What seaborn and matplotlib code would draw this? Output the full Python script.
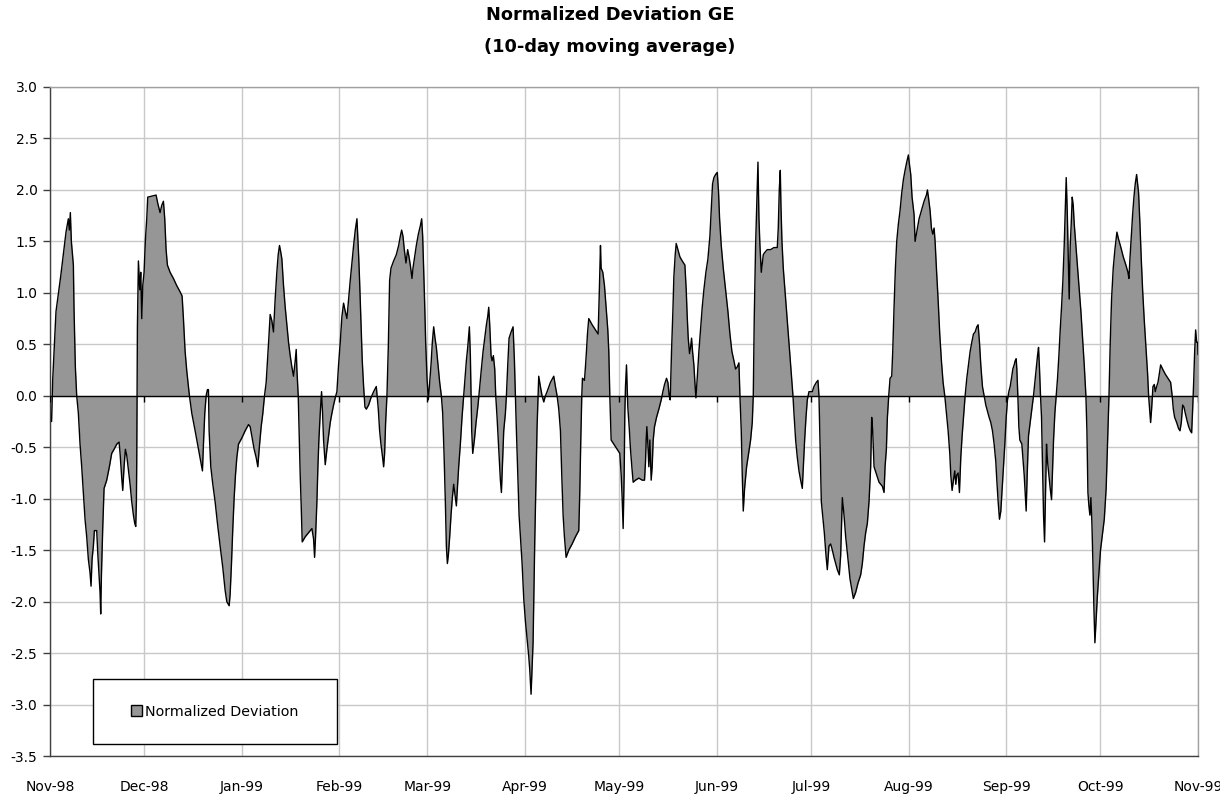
import numpy as np
import pandas as pd
import matplotlib
matplotlib.use("Agg")
import matplotlib.pyplot as plt
from matplotlib.patches import Patch, Rectangle
from matplotlib.ticker import FormatStrFormatter
import seaborn as sns

sns.set_theme(style="white")
plt.rcParams["font.family"] = ["DejaVu Sans"]
plt.rcParams["text.color"] = "black"

start = "1998-11-01"

# days after 1 Nov 1998
day = [
    0.5, 0.85, 1.27, 1.59, 1.91, 2.65, 3.4, 4.24, 5.09, 5.84,
    6.15, 6.47, 6.79, 7.43, 7.64, 8.06, 8.49, 9.02, 9.55, 10.08,
    10.61, 11.14, 11.67, 12.2, 12.73, 13.05, 13.37, 13.79, 14.11, 14.85,
    15.17, 15.7, 15.91, 16.12, 16.34, 16.76, 17.19, 18.03, 18.88, 19.62,
    20.37, 21.22, 21.96, 22.28, 22.81, 23.12, 23.55, 23.97, 24.4, 24.82,
    25.46, 25.99, 26.52, 26.94, 27.26, 27.47, 27.58, 27.69, 27.79, 28.11,
    28.32, 28.53, 28.85, 29.17, 29.49, 29.91, 30.34, 30.76, 31.08, 32.35,
    33.73, 34.26, 35.0, 35.53, 36.06, 36.48, 36.91, 37.33, 38.18, 39.24,
    40.3, 41.36, 42.0, 42.42, 42.96, 43.49, 44.33, 45.08, 46.14, 47.2,
    47.94, 48.47, 48.79, 49.21, 49.64, 50.06, 50.38, 50.59, 51.12, 51.76,
    52.5, 53.24, 54.09, 54.94, 55.68, 56.21, 56.96, 57.27, 57.7, 58.12,
    58.55, 58.97, 59.4, 59.93, 60.99, 62.05, 63.11, 63.64, 64.17, 64.91,
    65.55, 66.08, 66.5, 67.14, 67.67, 68.2, 68.73, 69.15, 69.58, 70.0,
    70.53, 71.06, 71.59, 72.12, 72.55, 72.97, 73.4, 73.72, 74.25, 74.78,
    75.31, 75.84, 76.37, 76.9, 77.43, 77.96, 78.28, 78.49, 78.92, 79.24,
    79.55, 79.87, 80.19, 81.15, 82.21, 83.27, 83.8, 84.12, 84.43, 84.86,
    85.18, 85.49, 85.92, 86.34, 86.66, 86.98, 87.51, 88.04, 88.57, 89.1,
    89.63, 90.16, 90.69, 91.22, 91.75, 92.28, 92.81, 93.34, 93.87, 94.4,
    94.93, 95.46, 95.99, 96.53, 97.06, 97.59, 98.12, 98.43, 98.86, 99.28,
    99.71, 100.13, 100.56, 101.3, 102.04, 102.89, 103.74, 104.38, 104.8, 105.22,
    105.75, 106.07, 106.39, 106.71, 107.13, 107.56, 107.98, 108.41, 109.25, 110.1,
    110.85, 111.38, 111.8, 112.23, 112.65, 113.18, 113.71, 114.14, 114.56, 115.09,
    115.41, 115.84, 116.47, 117.11, 117.74, 118.17, 118.49, 118.8, 119.12, 119.44,
    119.87, 120.29, 120.71, 121.14, 121.56, 121.99, 122.41, 122.84, 123.37, 123.9,
    124.43, 124.85, 125.28, 125.7, 126.02, 126.34, 126.65, 127.08, 127.5, 127.93,
    128.35, 128.78, 129.2, 129.52, 129.94, 130.47, 131.0, 131.53, 131.96, 132.38,
    132.81, 133.34, 133.65, 133.87, 134.08, 134.4, 134.93, 135.46, 136.09, 136.62,
    137.15, 137.69, 138.22, 138.75, 139.17, 139.49, 139.81, 140.23, 140.55, 140.97,
    141.4, 141.72, 142.14, 142.67, 143.2, 143.52, 143.84, 144.26, 144.79, 145.11,
    145.54, 145.96, 146.6, 147.23, 147.66, 147.97, 148.29, 148.72, 149.14, 149.56,
    150.1, 150.62, 151.15, 151.68, 152.21, 152.53, 152.95, 153.27, 153.59, 153.8,
    154.12, 154.55, 154.86, 155.18, 155.39, 155.92, 156.45, 156.99, 157.52, 158.05,
    159.11, 160.17, 160.7, 161.23, 161.76, 162.29, 162.71, 163.14, 163.56, 164.09,
    164.94, 166.0, 167.06, 168.12, 168.44, 168.76, 169.08, 169.29, 169.93, 170.24,
    170.56, 170.88, 171.3, 172.37, 173.43, 174.27, 174.59, 175.02, 175.23, 175.76,
    176.29, 176.82, 177.35, 177.67, 177.99, 178.41, 179.26, 180.32, 181.17, 181.6,
    181.91, 182.23, 182.55, 182.76, 182.97, 183.29, 183.5, 183.71, 184.14, 184.56,
    184.99, 185.41, 186.15, 187.21, 188.28, 189.02, 189.34, 189.55, 189.77, 190.08,
    190.4, 190.72, 190.93, 191.14, 191.46, 191.78, 192.2, 192.84, 193.58, 194.33,
    194.86, 195.39, 196.02, 196.45, 196.87, 197.19, 197.3, 197.61, 198.04, 198.36,
    198.78, 199.1, 199.63, 200.27, 201.01, 201.86, 202.28, 202.6, 202.92, 203.34,
    203.66, 203.98, 204.3, 204.72, 205.04, 205.36, 205.78, 206.31, 206.84, 207.37,
    207.9, 208.54, 209.18, 209.81, 210.24, 210.66, 211.09, 211.62, 212.15, 212.57,
    212.89, 213.42, 214.06, 214.8, 215.54, 216.18, 216.81, 217.45, 217.98, 218.51,
    219.04, 219.36, 219.78, 220.1, 220.42, 220.84, 221.48, 222.12, 222.75, 223.28,
    223.6, 223.92, 224.34, 224.66, 225.09, 225.41, 225.72, 226.15, 226.78, 227.2,
    228.05, 229.11, 230.17, 231.23, 231.55, 231.87, 232.19, 232.4, 232.72, 233.14,
    233.67, 234.2, 234.73, 235.26, 235.79, 236.22, 236.54, 237.07, 237.6, 238.13,
    238.66, 239.19, 239.51, 239.93, 240.36, 240.78, 241.31, 242.37, 242.9, 243.64,
    244.17, 244.49, 244.81, 245.24, 245.66, 246.19, 246.72, 247.14, 247.67, 248.2,
    248.74, 249.27, 249.8, 250.33, 250.96, 251.39, 251.92, 252.45, 252.98, 253.72,
    254.36, 254.99, 255.42, 256.16, 256.9, 257.75, 258.28, 258.81, 259.34, 259.87,
    260.4, 260.93, 261.25, 261.57, 262.0, 262.84, 263.59, 264.65, 265.18, 265.5,
    265.92, 266.24, 266.67, 267.09, 267.62, 267.94, 268.36, 268.79, 269.21, 269.74,
    270.27, 270.8, 271.33, 271.86, 272.39, 272.92, 273.24, 273.67, 274.09, 274.73,
    275.05, 275.58, 276.32, 277.06, 277.91, 278.65, 278.97, 279.29, 279.82, 280.24,
    280.67, 281.09, 281.41, 281.83, 282.36, 282.89, 283.42, 283.95, 284.49, 285.02,
    285.55, 286.08, 286.4, 286.82, 287.24, 287.67, 287.99, 288.3, 288.73, 289.15,
    289.58, 290.0, 290.43, 290.96, 291.49, 292.02, 292.55, 293.08, 293.61, 294.14,
    294.67, 295.09, 295.52, 295.94, 296.47, 297.0, 297.53, 298.06, 298.59, 299.12,
    299.65, 300.18, 300.71, 301.03, 301.46, 301.88, 302.31, 302.73, 303.16, 303.58,
    304.01, 304.43, 304.86, 305.28, 305.7, 306.13, 306.55, 306.87, 307.19, 307.4,
    307.72, 308.04, 308.36, 308.67, 308.99, 309.31, 309.74, 310.05, 310.37, 310.69,
    311.11, 311.64, 312.17, 312.7, 313.13, 313.55, 313.98, 314.3, 314.61, 314.93,
    315.25, 315.57, 315.89, 316.21, 316.52, 316.84, 317.16, 317.58, 318.01, 318.43,
    318.75, 319.07, 319.49, 319.92, 320.34, 320.77, 321.19, 321.61, 322.04, 322.46,
    322.78, 323.1, 323.42, 323.74, 324.05, 324.37, 324.69, 325.01, 325.33, 325.65,
    326.18, 326.71, 327.24, 327.77, 328.3, 328.83, 329.36, 329.68, 330.0, 330.31,
    330.63, 330.95, 331.27, 331.59, 331.9, 332.22, 332.6, 333.0, 333.5, 334.0,
    334.6, 335.2, 335.8, 336.3, 336.7, 337.1, 337.52, 338.05, 338.58, 339.22,
    339.75, 340.49, 341.24, 342.08, 342.72, 343.04, 343.36, 343.78, 344.21, 344.63,
    345.05, 345.48, 345.8, 346.11, 346.54, 346.96, 347.39, 347.92, 348.45, 348.98,
    349.3, 349.62, 349.93, 350.25, 350.68, 351.1, 351.42, 351.84, 352.27, 352.69,
    353.12, 353.75, 354.6, 355.45, 356.3, 356.72, 357.15, 357.57, 358.21, 358.84,
    359.27, 359.69, 360.12, 360.54, 360.96, 361.5, 362.03, 362.56, 362.98, 363.3,
    363.62, 363.94, 364.25, 364.57, 364.89, 365.0,
]

deviation = [
    -0.25, 0.15, 0.43, 0.62, 0.82, 0.99, 1.16, 1.37, 1.59, 1.72,
    1.61, 1.78, 1.50, 1.27, 0.84, 0.28, 0, -0.17, -0.47, -0.69,
    -0.94, -1.2, -1.37, -1.59, -1.72, -1.85, -1.59, -1.46, -1.31, -1.31,
    -1.52, -1.80, -1.91, -2.12, -1.76, -1.29, -0.90, -0.82, -0.69, -0.56,
    -0.52, -0.47, -0.45, -0.56, -0.80, -0.92, -0.69, -0.52, -0.58, -0.69,
    -0.86, -1.03, -1.16, -1.24, -1.27, -1.03, -0.64, 0, 0.67, 1.31,
    1.18, 1.03, 1.20, 0.75, 1.07, 1.20, 1.52, 1.72, 1.93, 1.94,
    1.95, 1.87, 1.78, 1.85, 1.89, 1.72, 1.42, 1.27, 1.20, 1.14,
    1.07, 1.01, 0.97, 0.75, 0.43, 0.24, 0, -0.17, -0.34, -0.52,
    -0.64, -0.73, -0.47, -0.17, 0, 0.06, 0.06, -0.34, -0.69, -0.86,
    -1.03, -1.24, -1.46, -1.67, -1.89, -2.0, -2.04, -1.93, -1.63, -1.29,
    -0.99, -0.77, -0.60, -0.47, -0.41, -0.34, -0.28, -0.30, -0.39, -0.52,
    -0.60, -0.69, -0.52, -0.30, -0.17, 0, 0.13, 0.34, 0.56, 0.79,
    0.73, 0.62, 0.94, 1.20, 1.37, 1.46, 1.39, 1.33, 1.07, 0.86,
    0.69, 0.52, 0.39, 0.28, 0.19, 0.34, 0.45, 0.26, 0, -0.39,
    -0.77, -1.07, -1.42, -1.37, -1.33, -1.29, -1.39, -1.57, -1.37, -1.03,
    -0.69, -0.43, -0.17, 0.04, -0.17, -0.43, -0.67, -0.52, -0.39, -0.26,
    -0.17, -0.09, -0.02, 0.04, 0.30, 0.52, 0.77, 0.90, 0.82, 0.75,
    0.94, 1.12, 1.29, 1.46, 1.61, 1.72, 1.37, 1.12, 0.73, 0.34,
    0.09, -0.11, -0.13, -0.09, -0.02, 0.04, 0.09, -0.13, -0.34, -0.47,
    -0.60, -0.69, -0.56, -0.26, 0, 0.47, 1.12, 1.24, 1.31, 1.37,
    1.46, 1.55, 1.61, 1.55, 1.42, 1.29, 1.42, 1.35, 1.27, 1.14,
    1.24, 1.33, 1.46, 1.57, 1.65, 1.72, 1.55, 1.24, 0.90, 0.52,
    0.17, -0.04, 0.13, 0.30, 0.52, 0.67, 0.56, 0.47, 0.30, 0.13,
    0, -0.17, -0.56, -1.03, -1.46, -1.63, -1.55, -1.37, -1.16, -0.99,
    -0.86, -0.97, -1.07, -0.90, -0.69, -0.47, -0.21, 0, 0.17, 0.34,
    0.47, 0.67, 0.39, 0, -0.34, -0.56, -0.43, -0.26, -0.09, 0.09,
    0.26, 0.43, 0.56, 0.69, 0.77, 0.86, 0.69, 0.39, 0.34, 0.39,
    0.26, 0, -0.21, -0.52, -0.82, -0.94, -0.69, -0.34, -0.17, 0,
    0.30, 0.56, 0.62, 0.67, 0.34, 0, -0.34, -0.77, -1.16, -1.37,
    -1.63, -1.97, -2.19, -2.36, -2.53, -2.66, -2.90, -2.66, -2.40, -2.02,
    -1.42, -0.77, -0.30, 0, 0.19, 0.09, 0, -0.06, 0, 0.04,
    0.13, 0.19, 0.09, 0, -0.13, -0.34, -0.77, -1.16, -1.37, -1.57,
    -1.50, -1.44, -1.37, -1.31, -0.94, -0.43, 0, 0.17, 0.15, 0.28,
    0.43, 0.60, 0.75, 0.69, 0.64, 0.60, 0.94, 1.46, 1.24, 1.20,
    1.07, 0.86, 0.64, 0.43, 0, -0.43, -0.47, -0.52, -0.56, -0.77,
    -0.99, -1.29, -0.77, -0.17, 0.09, 0.30, 0.09, -0.11, -0.30, -0.52,
    -0.69, -0.84, -0.82, -0.80, -0.82, -0.82, -0.64, -0.43, -0.30, -0.47,
    -0.69, -0.43, -0.64, -0.82, -0.69, -0.43, -0.30, -0.21, -0.13, -0.04,
    0.04, 0.11, 0.17, 0.13, 0, -0.04, 0.09, 0.43, 0.82, 1.16,
    1.37, 1.48, 1.42, 1.35, 1.31, 1.27, 1.03, 0.77, 0.56, 0.41,
    0.47, 0.56, 0.43, 0.30, 0.13, -0.02, 0.17, 0.43, 0.64, 0.86,
    1.03, 1.20, 1.33, 1.55, 1.80, 2.06, 2.12, 2.15, 2.17, 1.97,
    1.72, 1.46, 1.24, 1.03, 0.82, 0.60, 0.43, 0.34, 0.26, 0.28,
    0.32, 0, -0.34, -0.77, -1.12, -0.90, -0.69, -0.56, -0.43, -0.26,
    0, 0.77, 1.46, 1.80, 2.27, 1.72, 1.46, 1.20, 1.37, 1.39,
    1.42, 1.42, 1.44, 1.44, 1.63, 2.0, 2.19, 1.85, 1.50, 1.24,
    1.03, 0.82, 0.60, 0.39, 0.17, 0, -0.17, -0.43, -0.60, -0.73,
    -0.82, -0.90, -0.69, -0.43, -0.21, -0.04, 0.04, 0.04, 0.09, 0.13,
    0.15, 0, -0.43, -1.03, -1.16, -1.33, -1.55, -1.69, -1.46, -1.44,
    -1.50, -1.57, -1.63, -1.69, -1.74, -1.55, -0.99, -1.16, -1.37, -1.59,
    -1.78, -1.89, -1.97, -1.91, -1.82, -1.74, -1.63, -1.46, -1.33, -1.24,
    -1.03, -0.69, -0.21, -0.34, -0.69, -0.77, -0.84, -0.88, -0.94, -0.69,
    -0.52, -0.21, 0, 0.17, 0.19, 0.43, 0.86, 1.24, 1.50, 1.67,
    1.80, 1.97, 2.10, 2.19, 2.27, 2.34, 2.25, 2.15, 1.93, 1.76,
    1.50, 1.59, 1.72, 1.80, 1.89, 1.95, 2.0, 1.93, 1.80, 1.63,
    1.57, 1.63, 1.50, 1.24, 0.94, 0.60, 0.34, 0.13, 0, -0.17,
    -0.34, -0.56, -0.77, -0.92, -0.82, -0.73, -0.86, -0.77, -0.75, -0.94,
    -0.60, -0.39, -0.21, 0, 0.17, 0.30, 0.43, 0.52, 0.60, 0.62,
    0.67, 0.69, 0.52, 0.30, 0.09, 0, -0.09, -0.15, -0.21, -0.26,
    -0.34, -0.47, -0.64, -0.82, -1.03, -1.20, -1.12, -0.90, -0.69, -0.47,
    -0.21, -0.04, 0.04, 0.09, 0.17, 0.26, 0.30, 0.34, 0.36, 0.26,
    0, -0.30, -0.43, -0.45, -0.47, -0.60, -0.77, -0.94, -1.12, -0.77,
    -0.39, -0.26, -0.13, 0, 0.13, 0.26, 0.39, 0.47, 0.26, 0,
    -0.21, -0.69, -1.16, -1.42, -0.94, -0.47, -0.64, -0.77, -0.90, -1.01,
    -0.73, -0.43, -0.17, 0, 0.17, 0.39, 0.64, 0.86, 1.12, 1.46,
    1.80, 2.12, 1.80, 1.37, 0.94, 1.46, 1.67, 1.93, 1.85, 1.67,
    1.46, 1.24, 1.03, 0.82, 0.56, 0.30, 0, -0.34, -0.94, -1.07,
    -1.16, -0.99, -1.24, -1.63, -2.06, -2.40, -2.19, -1.95, -1.72, -1.50,
    -1.35, -1.20, -0.90, -0.40, 0, 0.52, 0.94, 1.24, 1.42, 1.59,
    1.52, 1.44, 1.35, 1.27, 1.20, 1.14, 1.33, 1.55, 1.76, 1.93,
    2.06, 2.15, 2.06, 1.97, 1.67, 1.33, 1.03, 0.73, 0.47, 0.21,
    0, -0.13, -0.26, -0.13, 0.09, 0.11, 0.04, 0.09, 0.13, 0.21,
    0.30, 0.26, 0.21, 0.17, 0.13, 0.02, -0.13, -0.21, -0.26, -0.32,
    -0.34, -0.26, -0.09, -0.11, -0.17, -0.24, -0.30, -0.34, -0.36, -0.13,
    0.13, 0.43, 0.64, 0.52, 0.52, 0.40,
]

month_labels = ["Nov-98", "Dec-98", "Jan-99", "Feb-99", "Mar-99", "Apr-99", "May-99",
                "Jun-99", "Jul-99", "Aug-99", "Sep-99", "Oct-99", "Nov-99"]
y_ticks = [-3.5, -3.0, -2.5, -2.0, -1.5, -1.0, -0.5, 0.0, 0.5, 1.0, 1.5, 2.0, 2.5, 3.0]

assert len(day) == len(deviation)

df = pd.DataFrame({
    "date": pd.Timestamp(start) + pd.to_timedelta(day, unit="D"),
    "deviation": deviation,
})
months = pd.date_range(start, periods=len(month_labels), freq="MS")

fig = plt.figure(figsize=(12.2, 7.98), dpi=100)
ax = fig.add_axes([50 / 1220, 42 / 798, 1148 / 1220, 669 / 798])

ax.fill_between(df["date"], df["deviation"], 0, color="#969696", lw=0, zorder=2)
sns.lineplot(data=df, x="date", y="deviation", color="black", lw=1,
             estimator=None, sort=False, ax=ax, zorder=3)
ax.axhline(0, color="black", lw=1, zorder=4)
ax.vlines(months, -0.06, 0, color="black", lw=1, zorder=4)

ax.set_xlim(months[0], months[-1])
ax.set_ylim(-3.5, 3.0)
ax.set_xticks(months)
ax.set_xticklabels(month_labels)
ax.set_yticks(y_ticks)
ax.yaxis.set_major_formatter(FormatStrFormatter("%.1f"))
ax.set_xlabel("")
ax.set_ylabel("")

ax.grid(True, color="#c8c8c8", lw=1)
ax.set_axisbelow(True)
for side in ["left", "bottom"]:
    ax.spines[side].set_color("#404040")
    ax.spines[side].set_linewidth(1)
for side in ["top", "right"]:
    ax.spines[side].set_color("#a0a0a0")
    ax.spines[side].set_linewidth(1)

ax.tick_params(axis="y", left=True, length=5, width=1, color="#404040",
               pad=4, labelsize=10, labelcolor="black")
ax.tick_params(axis="x", bottom=False, length=0, pad=17, labelsize=10,
               labelcolor="black")

# legend box
ax.add_patch(Rectangle((0.0375, 0.018), 0.2125, 0.097, transform=ax.transAxes,
                       facecolor="white", edgecolor="black", lw=1, zorder=5))
leg = ax.legend(handles=[Patch(facecolor="#969696", edgecolor="black", lw=1,
                               label="Normalized Deviation")],
                loc="center", bbox_to_anchor=(0.14375, 0.0665), frameon=False,
                fontsize=10.3, handlelength=0.75, handleheight=0.75,
                handletextpad=0.25, labelcolor="black")
leg.set_zorder(6)

fig.text(0.5, 1 - 15 / 798, "Normalized Deviation GE", ha="center", va="center",
         fontsize=12.8, fontweight="bold", color="black")
fig.text(0.5, 1 - 47 / 798, "(10-day moving average)", ha="center", va="center",
         fontsize=12.8, fontweight="bold", color="black")

fig.savefig("out.png", dpi=100)
